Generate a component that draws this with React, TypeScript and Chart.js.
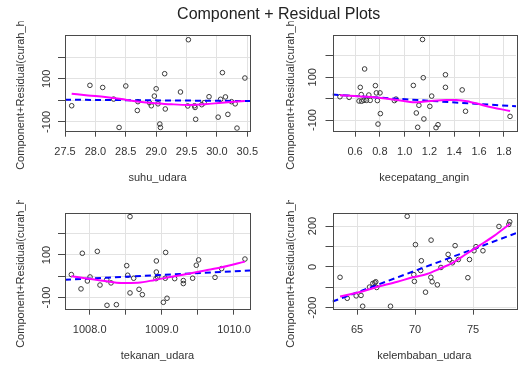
import React, { useEffect, useRef } from "react";
import { Chart, registerables } from "chart.js";

Chart.register(...registerables);

const FONT = '"Liberation Sans", Arial, Helvetica, sans-serif';
const W = 521;
const H = 365;

const mainTitle = "Component + Residual Plots";
const yAxisTitle = "Component+Residual(curah_hujan)";

// ---- Panel 1: suhu_udara ----
const suhuX = [27.61, 27.91, 28.12, 28.3, 28.39, 28.5, 28.69, 28.7, 28.89, 28.92, 28.97, 29.0, 29.03, 29.06, 29.07, 29.14, 29.15, 29.4, 29.53, 29.52, 29.63, 29.64, 29.65, 29.75, 29.79, 29.87, 30.02, 30.06, 30.09, 30.14, 30.18, 30.24, 30.3, 30.33, 30.46];
const suhuY = [-25, 70, 60, 6, -126, 67, -47, -6, -11, -25, 20, 54, -16, -110, -126, 124, -40, 39, 282, -26, -25, -33, -88, -20, -11, 17, -78, 5, 129, 16, -65, -6, -16, -129, 104];
const suhuFitX = [27.5, 30.544];
const suhuFitY = [3, -3];
const suhuSmoothX = [27.61, 27.88, 28.16, 28.43, 28.6, 28.76, 28.98, 29.25, 29.53, 29.8, 30.08, 30.46];
const suhuSmoothY = [31, 23, 16, 6, -2, -8, -13, -18, -21, -18, -11, -3];
const suhuXTicks = [27.5, 28, 28.5, 29, 29.5, 30, 30.5];
const suhuXTickLabels = ["27.5", "28.0", "28.5", "29.0", "29.5", "30.0", "30.5"];
const suhuYTicks = [-100, 0, 100, 200];
const suhuYTickLabels = ["-100", "", "100", ""];

// ---- Panel 2: kecepatang_angin ----
const anginX = [0.478, 0.552, 0.642, 0.632, 0.65, 0.653, 0.671, 0.677, 0.692, 0.711, 0.722, 0.764, 0.772, 0.78, 0.785, 0.801, 0.804, 0.917, 0.93, 1.07, 1.094, 1.105, 1.115, 1.144, 1.15, 1.155, 1.203, 1.218, 1.253, 1.269, 1.329, 1.329, 1.464, 1.491, 1.85];
const anginY = [9, 6, 53, -11, 19, -12, -8, 139, -8, 17, -8, 61, 27, -9, -119, 27, -70, -9, -2, 62, -67, -134, -31, 277, 98, -95, -36, 12, -136, -122, 112, 53, 41, -59, -83];
const anginFitX = [0.418, 1.898];
const anginFitY = [19, -36];
const anginSmoothX = [0.478, 0.597, 0.73, 0.862, 0.994, 1.1, 1.205, 1.337, 1.417, 1.522, 1.655, 1.85];
const anginSmoothY = [16, 12, 8, 0, -11, -17, -11, -6, -6, -14, -34, -58];
const anginXTicks = [0.6, 0.8, 1.0, 1.2, 1.4, 1.6, 1.8];
const anginXTickLabels = ["0.6", "0.8", "1.0", "1.2", "1.4", "1.6", "1.8"];
const anginYTicks = [-100, 0, 100, 200];
const anginYTickLabels = ["-100", "", "100", ""];

// ---- Panel 3: tekanan_udara ----
const tekananX = [1007.746, 1007.88, 1007.898, 1007.968, 1008.005, 1008.106, 1008.143, 1008.236, 1008.24, 1008.296, 1008.37, 1008.513, 1008.527, 1008.559, 1008.559, 1008.61, 1008.684, 1008.73, 1008.924, 1008.924, 1008.919, 1008.942, 1009.021, 1009.053, 1009.048, 1009.072, 1009.178, 1009.298, 1009.298, 1009.427, 1009.478, 1009.51, 1009.737, 1009.829, 1010.152];
const tekananY = [8, -59, 108, -22, -3, 117, -41, -16, -136, -31, -133, 50, 5, 280, -78, -9, -61, -86, 72, 20, -11, -3, -122, 112, -9, -103, -11, -20, -34, -9, 52, 77, -5, 36, 81];
const tekananFitX = [1007.658, 1010.222];
const tekananFitY = [-16, 27];
const tekananSmoothX = [1007.746, 1007.98, 1008.21, 1008.44, 1008.67, 1008.905, 1009.136, 1009.367, 1009.6, 1009.83, 1010.152];
const tekananSmoothY = [0, -11, -22, -31, -30, -17, -2, 12, 27, 42, 69];
const tekananXTicks = [1008, 1008.5, 1009, 1009.5, 1010];
const tekananXTickLabels = ["1008.0", "", "1009.0", "", "1010.0"];
const tekananYTicks = [-100, 0, 100, 200];
const tekananYTickLabels = ["-100", "", "100", ""];

// ---- Panel 4: kelembaban_udara ----
const lembabX = [63.53, 64.15, 64.92, 65.34, 65.48, 66.07, 66.36, 66.53, 66.61, 66.69, 67.88, 69.32, 69.89, 69.94, 70.03, 70.48, 70.54, 70.9, 71.36, 71.38, 71.47, 71.92, 72.23, 72.85, 72.97, 73.22, 73.45, 73.73, 74.55, 74.69, 75.08, 75.25, 75.85, 77.23, 78.08, 78.16];
const lembabY = [-51, -154, -142, -140, -193, -99, -81, -78, -73, -101, -193, 248, -38, -71, 109, -18, 30, -124, -51, 131, -73, -88, -3, 61, 35, 20, 104, 36, -53, 36, 79, 99, 79, 198, 208, 221];
const lembabFitX = [62.88, 78.7];
const lembabFitY = [-170, 165];
const lembabSmoothX = [63.53, 65.0, 66.5, 68.47, 69.89, 71.02, 72.15, 73.28, 74.41, 75.54, 76.81, 78.16];
const lembabSmoothY = [-145, -127, -102, -73, -50, -35, -8, 21, 63, 104, 152, 210];
const lembabXTicks = [65, 70, 75];
const lembabXTickLabels = ["65", "70", "75"];
const lembabYTicks = [-200, -100, 0, 100, 200];
const lembabYTickLabels = ["-200", "", "0", "", "200"];

type Panel = {
  name: string;
  xs: number[];
  ys: number[];
  fitX: number[];
  fitY: number[];
  smX: number[];
  smY: number[];
  xTicks: number[];
  xTickLabels: string[];
  yTicks: number[];
  yTickLabels: string[];
  xRange: [number, number];
  yRange: [number, number];
  box: { l: number; r: number; t: number; b: number };
  yLabelX: number;
  yTitleX: number;
  clipTop: number;
  drawMain?: boolean;
};

const panels: Panel[] = [
  {
    name: "suhu_udara", xs: suhuX, ys: suhuY, fitX: suhuFitX, fitY: suhuFitY, smX: suhuSmoothX, smY: suhuSmoothY,
    xTicks: suhuXTicks, xTickLabels: suhuXTickLabels, yTicks: suhuYTicks, yTickLabels: suhuYTickLabels,
    xRange: [27.5, 30.544], yRange: [-141, 304],
    box: { l: 65, r: 250, t: 35, b: 130.7 }, yLabelX: 47, yTitleX: 20.7, clipTop: 21.5, drawMain: true,
  },
  {
    name: "kecepatang_angin", xs: anginX, ys: anginY, fitX: anginFitX, fitY: anginFitY, smX: anginSmoothX, smY: anginSmoothY,
    xTicks: anginXTicks, xTickLabels: anginXTickLabels, yTicks: anginYTicks, yTickLabels: anginYTickLabels,
    xRange: [0.418, 1.898], yRange: [-150, 298],
    box: { l: 332.5, r: 519, t: 35, b: 130.7 }, yLabelX: 313, yTitleX: 290.7, clipTop: 21.5,
  },
  {
    name: "tekanan_udara", xs: tekananX, ys: tekananY, fitX: tekananFitX, fitY: tekananFitY, smX: tekananSmoothX, smY: tekananSmoothY,
    xTicks: tekananXTicks, xTickLabels: tekananXTickLabels, yTicks: tekananYTicks, yTickLabels: tekananYTickLabels,
    xRange: [1007.658, 1010.222], yRange: [-152, 297],
    box: { l: 65, r: 250, t: 213, b: 308.7 }, yLabelX: 47, yTitleX: 20.7, clipTop: 200,
  },
  {
    name: "kelembaban_udara", xs: lembabX, ys: lembabY, fitX: lembabFitX, fitY: lembabFitY, smX: lembabSmoothX, smY: lembabSmoothY,
    xTicks: lembabXTicks, xTickLabels: lembabXTickLabels, yTicks: lembabYTicks, yTickLabels: lembabYTickLabels,
    xRange: [62.88, 78.7], yRange: [-205, 264],
    box: { l: 332.5, r: 519, t: 213, b: 308.7 }, yLabelX: 313, yTitleX: 290.7, clipTop: 200,
  },
];

const AXIS_W = 30;
const AXIS_H = 52.8;
const TEXT = "#333";

function zip(xs: number[], ys: number[]) {
  return xs.map((x, i) => ({ x, y: ys[i] }));
}

function makeChart(canvas: HTMLCanvasElement, p: Panel) {
  const decor = {
    id: "decor" + p.name,
    afterDraw(chart: any) {
      const { ctx, chartArea } = chart;
      const ys = chart.scales.y;
      ctx.save();
      // box
      ctx.strokeStyle = "#4a4a4a";
      ctx.lineWidth = 1;
      ctx.strokeRect(
        Math.round(chartArea.left) + 0.5,
        Math.round(chartArea.top) + 0.5,
        Math.round(chartArea.right - chartArea.left),
        Math.round(chartArea.bottom - chartArea.top)
      );
      // y tick labels (rotated)
      ctx.fillStyle = TEXT;
      ctx.font = `11px ${FONT}`;
      ctx.textAlign = "center";
      ctx.textBaseline = "middle";
      p.yTicks.forEach((v, i) => {
        const lab = p.yTickLabels[i];
        if (!lab) return;
        const py = ys.getPixelForValue(v);
        ctx.save();
        ctx.translate(p.yLabelX, py);
        ctx.rotate(-Math.PI / 2);
        ctx.fillText(lab, 0, 0);
        ctx.restore();
      });
      // y axis title (clipped like R's figure region)
      ctx.save();
      ctx.beginPath();
      ctx.rect(0, p.clipTop, W, H - p.clipTop);
      ctx.clip();
      const cy = (chartArea.top + chartArea.bottom) / 2;
      ctx.translate(p.yTitleX, cy);
      ctx.rotate(-Math.PI / 2);
      ctx.fillText(yAxisTitle, 0, 0);
      ctx.restore();
      // main title
      if (p.drawMain) {
        ctx.font = `16px ${FONT}`;
        ctx.fillStyle = "#222";
        ctx.textAlign = "center";
        ctx.textBaseline = "alphabetic";
        ctx.fillText(mainTitle, 278.7, 18.5);
      }
      ctx.restore();
    },
  };

  return new Chart(canvas, {
    type: "scatter",
    data: {
      datasets: [
        {
          type: "line",
          data: zip(p.smX, p.smY),
          borderColor: "#ff00ff",
          borderWidth: 2,
          pointRadius: 0,
          tension: 0.4,
          cubicInterpolationMode: "monotone",
          fill: false,
        } as any,
        {
          type: "line",
          data: zip(p.fitX, p.fitY),
          borderColor: "#0000ff",
          borderWidth: 2,
          borderDash: [6, 4],
          pointRadius: 0,
          fill: false,
        } as any,
        {
          data: zip(p.xs, p.ys),
          pointRadius: 2.3,
          pointBorderColor: "#3a3a3a",
          pointBackgroundColor: "rgba(0,0,0,0)",
          pointBorderWidth: 1,
          showLine: false,
        } as any,
      ],
    },
    options: {
      responsive: false,
      animation: false,
      events: [],
      layout: {
        padding: {
          left: p.box.l - AXIS_W,
          right: W - p.box.r,
          top: p.box.t,
          bottom: H - p.box.b - AXIS_H,
        },
      },
      plugins: {
        legend: { display: false },
        tooltip: { enabled: false },
        title: { display: false },
      },
      scales: {
        x: {
          type: "linear",
          position: "bottom",
          min: p.xRange[0],
          max: p.xRange[1],
          afterBuildTicks: (s: any) => {
            s.ticks = p.xTicks.map((v) => ({ value: v }));
          },
          afterFit: (s: any) => {
            s.height = AXIS_H;
            s.paddingLeft = 0;
            s.paddingRight = 0;
          },
          ticks: {
            autoSkip: false,
            maxRotation: 0,
            minRotation: 0,
            padding: 9.5,
            color: TEXT,
            font: { family: FONT, size: 11, lineHeight: 1 },
            callback: (_v: any, i: number) => p.xTickLabels[i],
          },
          grid: { color: "#e2e2e2", lineWidth: 1, tickColor: "#4a4a4a", tickLength: 6, drawTicks: true },
          border: { display: false },
          title: {
            display: true,
            text: p.name,
            color: TEXT,
            font: { family: FONT, size: 11, lineHeight: 1 },
            padding: 0,
          },
        },
        y: {
          type: "linear",
          min: p.yRange[0],
          max: p.yRange[1],
          afterBuildTicks: (s: any) => {
            s.ticks = p.yTicks.map((v) => ({ value: v }));
          },
          afterFit: (s: any) => {
            s.width = AXIS_W;
            s.paddingTop = 0;
            s.paddingBottom = 0;
          },
          ticks: { display: false },
          grid: { color: "#e2e2e2", lineWidth: 1, tickColor: "#4a4a4a", tickLength: 7, drawTicks: true },
          border: { display: false },
        },
      },
    } as any,
    plugins: [decor],
  });
}

export default function App() {
  const refs = useRef<(HTMLCanvasElement | null)[]>([]);
  useEffect(() => {
    const charts = panels.map((p, i) => makeChart(refs.current[i] as HTMLCanvasElement, p));
    return () => charts.forEach((c) => c.destroy());
  }, []);
  return (
    <div style={{ position: "absolute", left: 0, top: 0, width: W, height: H, background: "#fff", overflow: "hidden" }}>
      {panels.map((p, i) => (
        <canvas
          key={p.name}
          ref={(el) => {
            refs.current[i] = el;
          }}
          width={W}
          height={H}
          style={{ position: "absolute", left: 0, top: 0, width: W, height: H }}
        />
      ))}
    </div>
  );
}
